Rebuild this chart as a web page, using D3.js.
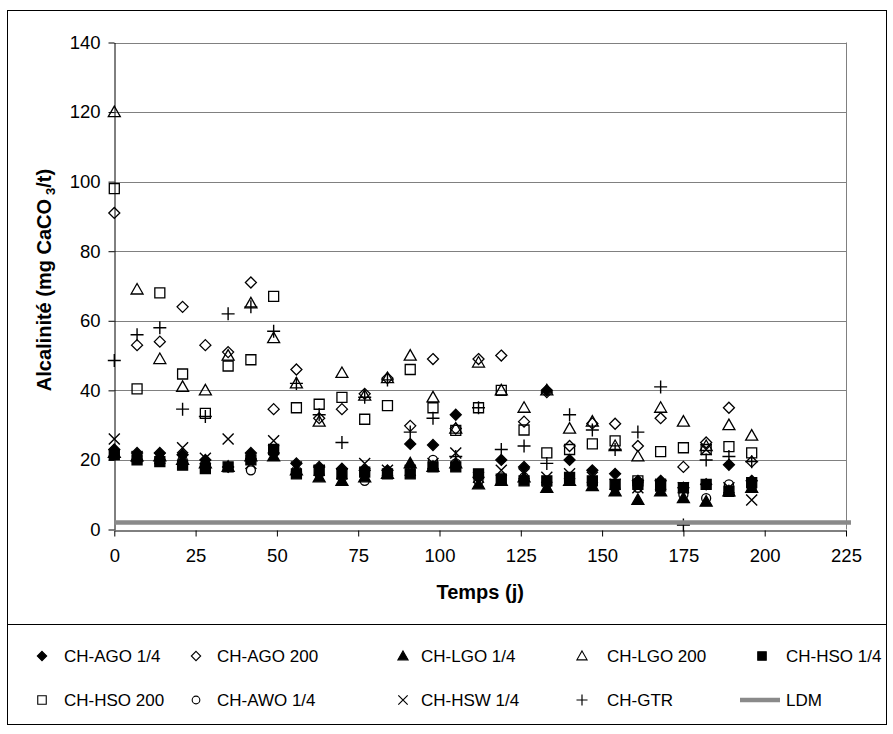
<!DOCTYPE html>
<html>
<head>
<meta charset="utf-8">
<script src="https://cdn.jsdelivr.net/npm/d3@7"></script>
<style>
  body { margin: 0; background: #fff; }
  svg { display: block; font-family: "Liberation Sans", Arial, sans-serif; }
</style>
</head>
<body>
<svg id="chart" width="893" height="734"></svg>
<script>
// Sampling days (weekly) and axis ticks
const days = [0, 7, 14, 21, 28, 35, 42, 49, 56, 63, 70, 77, 84, 91, 98, 105, 112, 119, 126, 133, 140, 147, 154, 161, 168, 175, 182, 189, 196];
const xTicks = [0, 25, 50, 75, 100, 125, 150, 175, 200, 225];
const yTicks = [0, 20, 40, 60, 80, 100, 120, 140];

// Alkalinity (mg CaCO3/t) per column
const agoQuarter = [23, 22, 22, 21.5, 20, 18, 22, 22, 19, 18, 17.5, 17, 17, 24.6, 24.3, 33, 15, 20, 18, 40, 20, 17, 16, 14, 14, 12, 13, 18.6, 14];
const ago200 = [91, 53, 54, 64, 53, 51, 71, 34.6, 46, 32, 34.6, 39, 43.5, 29.8, 49, 29, 49, 50, 31, 39.5, 24, 30.5, 30.4, 24, 32, 18, 25, 35, 19.5];
const lgoQuarter = [22, 21, 21, 20, 19, 18, 21, 21, 17, 15, 14, 15, 16, 19, 18, 19, 13, 14, 15, 12, 14, 12.5, 11, 8.5, 11, 9, 8, 11, 12];
const lgo200 = [120, 69, 49, 41, 40, 50, 65, 55, 42, 31, 45, 38.5, 43.5, 50, 38, 29, 48, 40, 35, 40, 29, 31, 24, 21, 35, 31, 24, 30, 27];
const hsoQuarter = [21.5, 20, 19.5, 18.5, 17.5, 18, 20, 23, 16, 17, 16, 16.5, 16, 16, 18, 18, 16, 14.5, 14, 14, 15, 14, 13, 13, 12.5, 12, 13, 11, 13.5];
const hso200 = [98, 40.4, 68, 44.7, 33.4, 47, 48.8, 67, 35, 36, 38, 31.7, 35.6, 46, 35, 28.5, 35, 40, 28.6, 22, 23, 24.6, 25.5, 14, 22.4, 23.5, 23, 23.8, 22];
const awoQuarter = [22, 21, 20.5, 20, 18, 18, 17, 22, 17, 16, 15, 14, 16, 17, 20, 19, 14, 15, 15, 13, 15, 13, 12, 12, 12, 10, 9, 13, 12];
const hswQuarter = [26, 21, 20.5, 23.5, 20.5, 26, 19, 25.5, 18, 17, 16, 19, 17, 17, 19, 22, 15, 17, 16, 15, 16, 15, 13, 12, 13, 12, 23, 12, 8.5];
const gtr = [48.6, 56, 58, 34.6, 32.5, 62, 64, 57, 42, 33, 25, 38, 43, 28, 32, 21, 35, 23, 24, 19, 33, 28.6, 23, 28, 41, 1.3, 20, 21, 19.5];
// Detection limit
const ldmDays = [0, 225];
const ldmValues = [2, 2];

const seriesNames = ["CH-AGO 1/4", "CH-AGO 200", "CH-LGO 1/4", "CH-LGO 200", "CH-HSO 1/4",
                     "CH-HSO 200", "CH-AWO 1/4", "CH-HSW 1/4", "CH-GTR"];
const seriesValues = [agoQuarter, ago200, lgoQuarter, lgo200, hsoQuarter, hso200, awoQuarter, hswQuarter, gtr];
const seriesShapes = ["diamondFill", "diamond", "triangleFill", "triangle", "squareFill",
                      "square", "circle", "cross", "plus"];

const svg = d3.select("#chart");
const plot = { left: 114.3, right: 846, top: 42.5, bottom: 529.5 };

const x = d3.scaleLinear().domain([0, 225]).range([plot.left, plot.right]);
const y = d3.scaleLinear().domain([0, 140]).range([plot.bottom, plot.top]);

// outer frame
svg.append("rect").attr("x", 7.5).attr("y", 10.5).attr("width", 879).attr("height", 714)
  .attr("fill", "#fff").attr("stroke", "#000").attr("stroke-width", 1);

// gridlines
svg.append("g").selectAll("line").data(yTicks.filter(v => v > 0)).join("line")
  .attr("x1", plot.left).attr("x2", plot.right)
  .attr("y1", d => Math.round(y(d)) + 0.5).attr("y2", d => Math.round(y(d)) + 0.5)
  .attr("stroke", "#808080").attr("stroke-width", 1);
// right edge of the plot area
svg.append("line").attr("x1", plot.right + 0.5).attr("x2", plot.right + 0.5)
  .attr("y1", plot.top).attr("y2", plot.bottom).attr("stroke", "#808080");

// axes
const yAxis = svg.append("g").attr("transform", `translate(${Math.round(plot.left) + 0.5},0)`)
  .call(d3.axisLeft(y).tickValues(yTicks).tickSize(6).tickPadding(8).tickSizeOuter(0));
const xAxis = svg.append("g").attr("transform", `translate(0,${Math.round(plot.bottom) + 0.5})`)
  .call(d3.axisBottom(x).tickValues(xTicks).tickSize(6).tickPadding(12).tickSizeOuter(0));
[yAxis, xAxis].forEach(g => {
  g.selectAll("path, line").attr("stroke", "#000").attr("stroke-width", 1);
  g.selectAll("text").attr("font-size", 18.5).attr("fill", "#000")
    .attr("font-family", '"Liberation Sans", Arial, sans-serif');
});

// axis titles
svg.append("text").attr("x", (plot.left + plot.right) / 2).attr("y", 599)
  .attr("text-anchor", "middle").attr("font-weight", "bold").attr("font-size", 20)
  .text("Temps (j)");
const yTitle = svg.append("text")
  .attr("transform", `translate(51,${(plot.top + plot.bottom) / 2 - 6}) rotate(-90)`)
  .attr("text-anchor", "middle").attr("font-weight", "bold").attr("font-size", 20);
yTitle.append("tspan").text("Alcalinité (mg CaCO");
yTitle.append("tspan").attr("dx", 4).attr("font-size", 13).attr("dy", 4).text("3");
yTitle.append("tspan").attr("dy", -4).text("/t)");

// marker shapes
function markerPath(shape) {
  switch (shape) {
    case "diamond": case "diamondFill": return "M0,-5.5L5.5,0L0,5.5L-5.5,0Z";
    case "square": case "squareFill": return "M-5,-5H5V5H-5Z";
    case "triangle": case "triangleFill": return "M0,-6L6,4.5H-6Z";
    case "circle": return "M4.5,0A4.5,4.5 0 1,1 -4.5,0A4.5,4.5 0 1,1 4.5,0Z";
    case "cross": return "M-5.5,-5.5L5.5,5.5M5.5,-5.5L-5.5,5.5";
    case "plus": return "M-6.5,0H6.5M0,-6.5V6.5";
  }
}
function styleMarker(sel, shape) {
  const filled = shape.endsWith("Fill");
  sel.attr("d", markerPath(shape))
    .attr("fill", filled ? "#000" : "none")
    .attr("stroke", "#000")
    .attr("stroke-width", shape === "cross" || shape === "plus" ? 1.4 : 1.3)
    .attr("stroke-linejoin", "miter");
}

// series markers
const marksG = svg.append("g");
seriesNames.forEach((name, i) => {
  const pts = days.map((d, j) => ({ d, v: seriesValues[i][j] }));
  marksG.append("g").selectAll("path").data(pts).join("path")
    .attr("transform", p => `translate(${x(p.d)},${y(p.v)})`)
    .call(styleMarker, seriesShapes[i]);
});

// detection limit line
svg.append("line")
  .attr("x1", x(ldmDays[0])).attr("x2", x(ldmDays[1]) + 5)
  .attr("y1", y(ldmValues[0])).attr("y2", y(ldmValues[1]))
  .attr("stroke", "#8a8a8a").attr("stroke-width", 4.5);

// legend
svg.append("line").attr("x1", 7.5).attr("x2", 886.5).attr("y1", 624.5).attr("y2", 624.5)
  .attr("stroke", "#000");
const legendCols = [42, 196, 403, 582, 762];
const legendTextCols = [64, 217, 421, 607, 786];
const legendRows = [656, 700];
const legendItems = seriesNames.map((n, i) => ({ name: n, shape: seriesShapes[i] }))
  .concat([{ name: "LDM", shape: "line" }]);
legendItems.forEach((it, i) => {
  const r = Math.floor(i / 5), c = i % 5;
  const g = svg.append("g").attr("transform", `translate(0,${legendRows[r]})`);
  if (it.shape === "line") {
    g.append("line").attr("x1", legendCols[c] - 22).attr("x2", legendCols[c] + 18)
      .attr("y1", 0).attr("y2", 0).attr("stroke", "#8a8a8a").attr("stroke-width", 4.5);
  } else {
    g.append("path").attr("transform", `translate(${legendCols[c]},0) scale(0.85)`)
      .call(styleMarker, it.shape);
  }
  g.append("text").attr("x", legendTextCols[c]).attr("y", 0).attr("dy", "0.35em")
    .attr("font-size", 17).text(it.name);
});
</script>
</body>
</html>
